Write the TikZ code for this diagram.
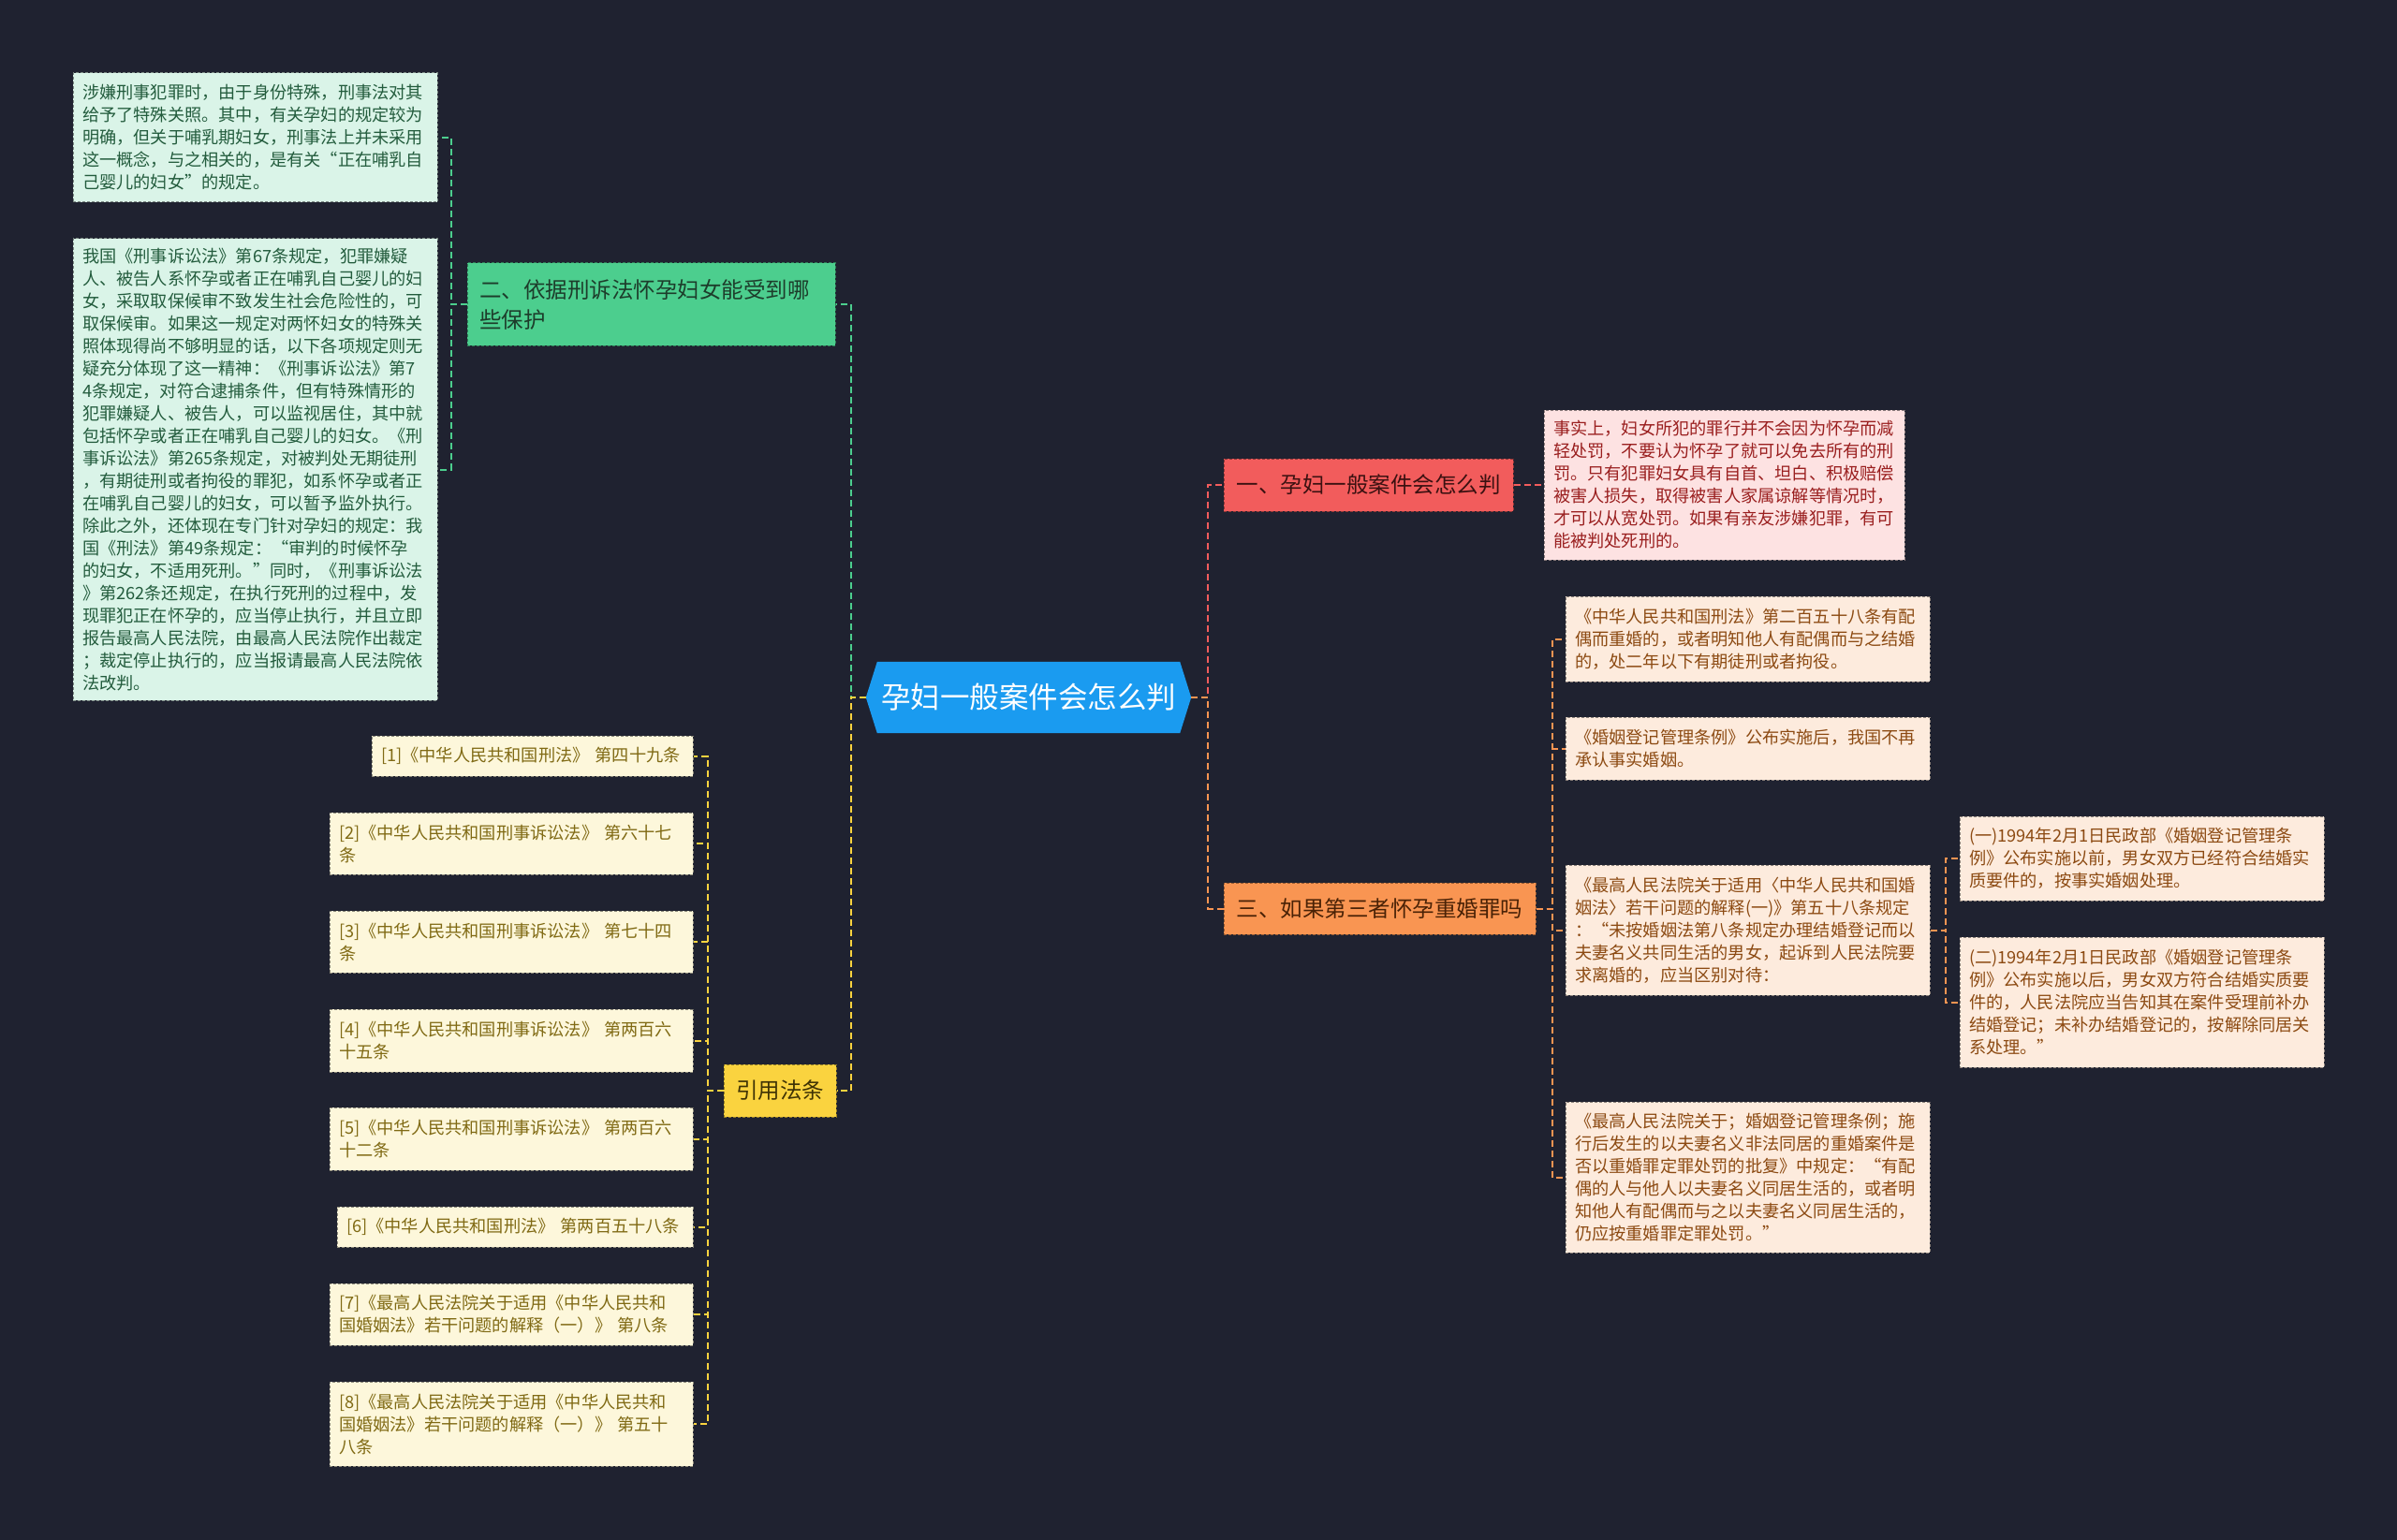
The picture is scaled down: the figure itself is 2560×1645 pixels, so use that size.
\documentclass[tikz,border=0pt]{standalone}
\usepackage{fontspec}
\setmainfont{Noto Sans CJK SC}
\usetikzlibrary{backgrounds}
\definecolor{bg}{HTML}{1F2230}
\definecolor{rootfill}{HTML}{1A9BF0}
\definecolor{gfill}{HTML}{4CCE8E}
\definecolor{gleaf}{HTML}{DAF4E8}
\definecolor{gtext}{HTML}{235C3D}
\definecolor{gbtext}{HTML}{1D3D2B}
\definecolor{rfill}{HTML}{F25C5C}
\definecolor{rbtext}{HTML}{3B1111}
\definecolor{pleaf}{HTML}{FDE2E2}
\definecolor{ptext}{HTML}{9A1F1F}
\definecolor{ofill}{HTML}{F99552}
\definecolor{obtext}{HTML}{4A2206}
\definecolor{oleaf}{HTML}{FDEBDD}
\definecolor{otext}{HTML}{8C4A12}
\definecolor{yfill}{HTML}{FAD33F}
\definecolor{ybtext}{HTML}{3F3305}
\definecolor{yleaf}{HTML}{FDF7DB}
\definecolor{ytext}{HTML}{806A14}
\begin{document}
\begin{tikzpicture}[x=1pt,y=-1pt,
  leafbase/.style={dash pattern=on 3pt off 2pt, line width=1pt,
    font=\fontsize{18.2pt}{24pt}\selectfont, align=left,
    inner xsep=10pt, inner ysep=0pt},
  gleafbox/.style={leafbase, fill=gleaf, draw=gleaf!55!black, text=gtext},
  pleafbox/.style={leafbase, fill=pleaf, draw=pleaf!55!black, text=ptext},
  oleafbox/.style={leafbase, fill=oleaf, draw=oleaf!55!black, text=otext},
  yleafbox/.style={leafbase, fill=yleaf, draw=yleaf!55!black, text=ytext},
  branchbase/.style={dash pattern=on 3pt off 2pt, line width=1pt,
    font=\fontsize{23.5pt}{32pt}\selectfont, inner xsep=13pt, inner ysep=0pt},
  gbranch/.style={branchbase, fill=gfill, draw=gfill!60!black, text=gbtext, align=left},
  rbranch/.style={branchbase, fill=rfill, draw=rfill!60!black, text=rbtext},
  obranch/.style={branchbase, fill=ofill, draw=ofill!60!black, text=obtext},
  ybranch/.style={branchbase, fill=yfill, draw=yfill!60!black, text=ybtext},
  rootbox/.style={text=white, font=\fontsize{31.5pt}{38pt}\selectfont, inner sep=0pt},
  link/.style={line width=2pt, dash pattern=on 7pt off 4pt},
  glink/.style={link, draw=gfill},
  rlink/.style={link, draw=rfill},
  olink/.style={link, draw=ofill},
  ylink/.style={link, draw=yfill}
]
\begin{pgfonlayer}{background}
\fill[bg] (0,0) rectangle (2560,1645);
\end{pgfonlayer}
\useasboundingbox (0,0) rectangle (2560,1645);

% root
\node[rootbox, minimum width=347pt, minimum height=76pt] (root) at (1098.5,745) {孕妇一般案件会怎么判};
\begin{pgfonlayer}{background}
\fill[rootfill] (root.west) -- ([xshift=12pt]root.north west) -- ([xshift=-12pt]root.north east)
  -- (root.east) -- ([xshift=-12pt]root.south east) -- ([xshift=12pt]root.south west) -- cycle;
\end{pgfonlayer}

% branches
\node[gbranch, text width=367pt, minimum height=88pt] (g) at (695.5,325) {二、依据刑诉法怀孕妇女能受到哪\\些保护};
\node[rbranch, minimum width=309pt, minimum height=56pt] (r) at (1461.5,518) {一、孕妇一般案件会怎么判};
\node[obranch, minimum width=333pt, minimum height=55pt] (o) at (1473.5,970.5) {三、如果第三者怀孕重婚罪吗};
\node[ybranch, minimum width=120pt, minimum height=56pt] (y) at (833,1165) {引用法条};

% green leaves
\node[gleafbox, text width=369pt, minimum height=138pt] (g1) at (272.5,147) {涉嫌刑事犯罪时，由于身份特殊，刑事法对其\\给予了特殊关照。其中，有关孕妇的规定较为\\明确，但关于哺乳期妇女，刑事法上并未采用\\这一概念，与之相关的，是有关“正在哺乳自\\己婴儿的妇女”的规定。};
\node[gleafbox, text width=369pt, minimum height=493pt] (g2) at (272.5,501.5) {我国《刑事诉讼法》第67条规定，犯罪嫌疑\\人、被告人系怀孕或者正在哺乳自己婴儿的妇\\女，采取取保候审不致发生社会危险性的，可\\取保候审。如果这一规定对两怀妇女的特殊关\\照体现得尚不够明显的话，以下各项规定则无\\疑充分体现了这一精神：《刑事诉讼法》第7\\4条规定，对符合逮捕条件，但有特殊情形的\\犯罪嫌疑人、被告人，可以监视居住，其中就\\包括怀孕或者正在哺乳自己婴儿的妇女。《刑\\事诉讼法》第265条规定，对被判处无期徒刑\\，有期徒刑或者拘役的罪犯，如系怀孕或者正\\在哺乳自己婴儿的妇女，可以暂予监外执行。\\除此之外，还体现在专门针对孕妇的规定：我\\国《刑法》第49条规定：“审判的时候怀孕\\的妇女，不适用死刑。”同时，《刑事诉讼法\\》第262条还规定，在执行死刑的过程中，发\\现罪犯正在怀孕的，应当停止执行，并且立即\\报告最高人民法院，由最高人民法院作出裁定\\；裁定停止执行的，应当报请最高人民法院依\\法改判。};

% pink leaf
\node[pleafbox, text width=365pt, minimum height=160pt] (p1) at (1841.5,518) {事实上，妇女所犯的罪行并不会因为怀孕而减\\轻处罚，不要认为怀孕了就可以免去所有的刑\\罚。只有犯罪妇女具有自首、坦白、积极赔偿\\被害人损失，取得被害人家属谅解等情况时，\\才可以从宽处罚。如果有亲友涉嫌犯罪，有可\\能被判处死刑的。};

% orange leaves
\node[oleafbox, text width=369pt, minimum height=91pt] (o1) at (1866.5,682.5) {《中华人民共和国刑法》第二百五十八条有配\\偶而重婚的，或者明知他人有配偶而与之结婚\\的，处二年以下有期徒刑或者拘役。};
\node[oleafbox, text width=369pt, minimum height=67pt] (o2) at (1866.5,799.5) {《婚姻登记管理条例》公布实施后，我国不再\\承认事实婚姻。};
\node[oleafbox, text width=369pt, minimum height=139pt] (o3) at (1866.5,993.5) {《最高人民法院关于适用〈中华人民共和国婚\\姻法〉若干问题的解释(一)》第五十八条规定\\：“未按婚姻法第八条规定办理结婚登记而以\\夫妻名义共同生活的男女，起诉到人民法院要\\求离婚的，应当区别对待：};
\node[oleafbox, text width=369pt, minimum height=161pt] (o4) at (1866.5,1257.5) {《最高人民法院关于；婚姻登记管理条例；施\\行后发生的以夫妻名义非法同居的重婚案件是\\否以重婚罪定罪处罚的批复》中规定：“有配\\偶的人与他人以夫妻名义同居生活的，或者明\\知他人有配偶而与之以夫妻名义同居生活的，\\仍应按重婚罪定罪处罚。”};
\node[oleafbox, text width=369pt, minimum height=90pt] (o31) at (2287.5,917) {(一)1994年2月1日民政部《婚姻登记管理条\\例》公布实施以前，男女双方已经符合结婚实\\质要件的，按事实婚姻处理。};
\node[oleafbox, text width=369pt, minimum height=139pt] (o32) at (2287.5,1070.5) {(二)1994年2月1日民政部《婚姻登记管理条\\例》公布实施以后，男女双方符合结婚实质要\\件的，人民法院应当告知其在案件受理前补办\\结婚登记；未补办结婚登记的，按解除同居关\\系处理。”};

% yellow leaves
\node[yleafbox, text width=323pt, minimum height=43pt] (y1) at (568.5,807.5) {[1]《中华人民共和国刑法》 第四十九条};
\node[yleafbox, text width=368pt, minimum height=66pt] (y2) at (546,901) {[2]《中华人民共和国刑事诉讼法》 第六十七\\条};
\node[yleafbox, text width=368pt, minimum height=66pt] (y3) at (546,1006) {[3]《中华人民共和国刑事诉讼法》 第七十四\\条};
\node[yleafbox, text width=368pt, minimum height=67pt] (y4) at (546,1111.5) {[4]《中华人民共和国刑事诉讼法》 第两百六\\十五条};
\node[yleafbox, text width=368pt, minimum height=67pt] (y5) at (546,1216.5) {[5]《中华人民共和国刑事诉讼法》 第两百六\\十二条};
\node[yleafbox, text width=360pt, minimum height=43pt] (y6) at (550,1310.5) {[6]《中华人民共和国刑法》 第两百五十八条};
\node[yleafbox, text width=368pt, minimum height=66pt] (y7) at (546,1404) {[7]《最高人民法院关于适用《中华人民共和\\国婚姻法》若干问题的解释（一）》 第八条};
\node[yleafbox, text width=368pt, minimum height=90pt] (y8) at (546,1521) {[8]《最高人民法院关于适用《中华人民共和\\国婚姻法》若干问题的解释（一）》 第五十\\八条};

% connectors
\draw[glink] (root.west) -- ++(-16,0) |- (g.east);
\draw[ylink] (root.west) -- ++(-16,0) |- (y.east);
\draw[rlink] (root.east) -- ++(18,0) |- (r.west);
\draw[olink] (root.east) -- ++(18,0) |- (o.west);
\draw[rlink] (r.east) -- (p1.west);
\foreach \t in {g1,g2} \draw[glink] (g.west) -- ++(-17,0) |- (\t.east);
\foreach \t in {o1,o2,o3,o4} \draw[olink] (o.east) -- ++(17,0) |- (\t.west);
\foreach \t in {o31,o32} \draw[olink] (o3.east) -- ++(16,0) |- (\t.west);
\foreach \t in {y1,y2,y3,y4,y5,y6,y7,y8} \draw[ylink] (y.west) -- ++(-17,0) |- (\t.east);
\end{tikzpicture}
\end{document}
